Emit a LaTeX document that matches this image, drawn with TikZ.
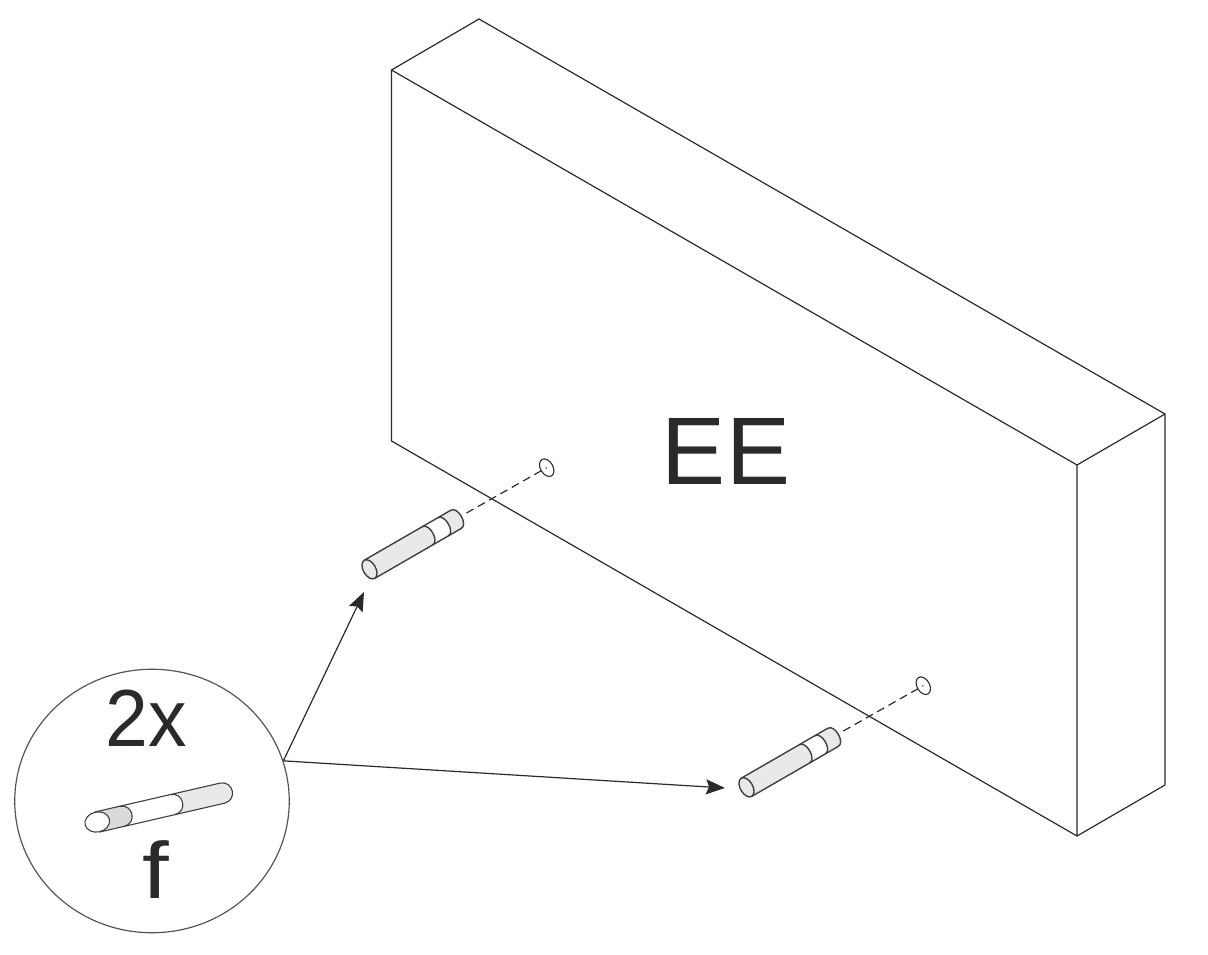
\documentclass[tikz,border=0pt]{standalone}
\usepackage{fontspec}
\setmainfont{Liberation Sans}
\usetikzlibrary{positioning,calc,arrows.meta,shapes.geometric}
\definecolor{inkdark}{HTML}{2B2A29}
\definecolor{pinfill}{HTML}{E8EAE9}
\definecolor{pinshade}{HTML}{D9DADA}
\tikzstyle{line} = [draw=inkdark,line width=1.2pt,line join=round]
\tikzstyle{pinline} = [draw=inkdark!90,line width=1.4pt,line join=round]
\tikzstyle{miniline} = [draw=inkdark!90,line width=1.1pt,line join=round]
\tikzstyle{hole} = [ellipse,draw=inkdark,line width=1.1pt,inner sep=0pt,minimum width=12.5pt,minimum height=19pt,rotate=30]
\tikzstyle{label} = [text=inkdark,inner sep=0pt,transform shape]
\tikzstyle{pointer} = [draw=inkdark,line width=1.2pt,-{Stealth[length=19pt,width=15pt,inset=3pt]}]
\tikzset{
  dowel/.pic={
    \path[fill=pinfill] (0,-10.5) -- (100,-10.5) .. controls (108,-10.5) and (108,10.5) .. (100,10.5) -- (0,10.5) -- cycle;
    \path[fill=white] (67,-10.5) -- (85,-10.5) .. controls (93,-10.5) and (93,10.5) .. (85,10.5) -- (67,10.5) .. controls (75,10.5) and (75,-10.5) .. (67,-10.5);
    \path[pinline] (0,-10.5) -- (100,-10.5) .. controls (108,-10.5) and (108,10.5) .. (100,10.5) -- (0,10.5);
    \path[pinline] (67,-10.5) .. controls (75,-10.5) and (75,10.5) .. (67,10.5);
    \path[pinline] (85,-10.5) .. controls (93,-10.5) and (93,10.5) .. (85,10.5);
    \node[ellipse,pinline,fill=pinfill,inner sep=0pt,minimum width=12.5pt,minimum height=21pt,rotate=30] at (0,0) {};
  },
  minidowel/.pic={
    \path[fill=pinfill] (0,-10.3) -- (128,-10.3) .. controls (142,-10.3) and (142,10.3) .. (128,10.3) -- (0,10.3) -- cycle;
    \path[fill=white] (25,-10.3) -- (77,-10.3) .. controls (91,-10.3) and (91,10.3) .. (77,10.3) -- (25,10.3) -- cycle;
    \path[fill=pinshade] (0,-10.3) -- (25,-10.3) .. controls (39,-10.3) and (39,10.3) .. (25,10.3) -- (0,10.3) -- cycle;
    \path[miniline] (0,-10.3) -- (128,-10.3) .. controls (142,-10.3) and (142,10.3) .. (128,10.3) -- (0,10.3);
    \path[miniline] (25,-10.3) .. controls (39,-10.3) and (39,10.3) .. (25,10.3);
    \path[miniline] (77,-10.3) .. controls (91,-10.3) and (91,10.3) .. (77,10.3);
    \node[ellipse,miniline,fill=white,inner sep=0pt,minimum width=25pt,minimum height=20pt,rotate=13] at (0,0) {};
  }
}
\begin{document}
\begin{tikzpicture}[x=1pt,y=-1pt]
    \useasboundingbox (0,0) rectangle (1208,955);
    % wall panel
    \path[line] (391.5,70) -- (479,19) -- (1165,414) -- (1077,465) -- cycle;
    \path[line] (391.5,70) -- (391.5,441) -- (1077,836) -- (1077,465);
    \path[line] (1077,836) -- (1165,785) -- (1165,414);
    \node[label,font=\fontsize{96}{96}\selectfont] (panel) at (726,451) {EE};
    % holes and dashed guides
    \node[hole] (hole1) at (546.7,467.7) {};
    \node[hole] (hole2) at (923.3,685.7) {};
    \coordinate (guide1) at (466.5,513);
    \coordinate (guide2) at (843.3,731);
    \path[line,dash pattern=on 8pt off 5pt] (guide1) -- (hole1.center);
    \path[line,dash pattern=on 8pt off 5pt] (guide2) -- (hole2.center);
    % dowels
    \pic[rotate=30] at (369.5,569.3) {dowel};
    \pic[rotate=30] at (746.5,787.3) {dowel};
    % detail circle
    \node[ellipse,draw=inkdark!80,line width=1.2pt,minimum width=274.5pt,minimum height=263.5pt,inner sep=0pt] (badge) at (152,801) {};
    \node[label,font=\fontsize{81}{81}\selectfont,xscale=.95] (count) at (146.5,718) {2x};
    \node[label,font=\fontsize{80}{80}\selectfont,xscale=1.2] (part) at (156,870) {f};
    \pic[rotate=13] at (97.3,822) {minidowel};
    % pointers
    \coordinate (tip1) at (364,592);
    \coordinate (tip2) at (725,788);
    \path[pointer] (badge.17) -- (tip1);
    \path[pointer] (badge.17) -- (tip2);
\end{tikzpicture}
\end{document}
